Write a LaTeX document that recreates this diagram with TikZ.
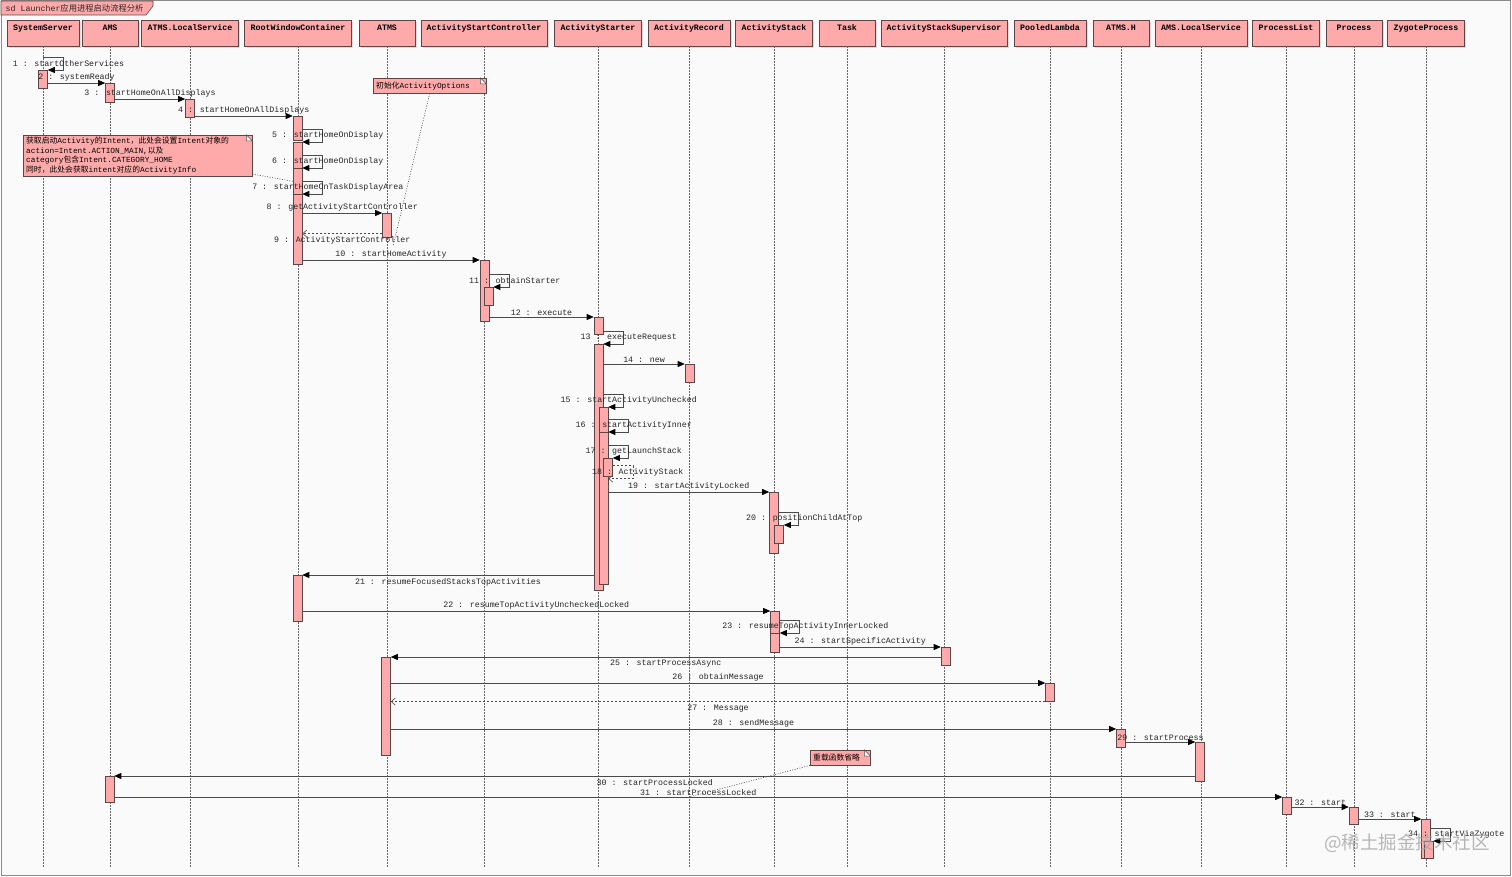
\documentclass[tikz,border=0pt]{standalone}
\usepackage{fontspec}
\usetikzlibrary{arrows.meta,shadows}
\newfontfamily\seqfont{Liberation Mono}
\newfontfamily\cjk{Noto Sans CJK SC}
\newcommand\zh[1]{{\cjk #1}}
\definecolor{pinkfill}{HTML}{FFAAAA}
\definecolor{edge}{HTML}{5A4646}
\definecolor{wire}{HTML}{4A4A4A}
\definecolor{paper}{HTML}{FAFAFA}
\definecolor{framegray}{HTML}{8A8A8A}
\tikzset{
  hdr/.style={draw=edge, fill=pinkfill, anchor=north, minimum width=56pt, inner xsep=6pt, inner ysep=3pt,
    text height=7.5pt, text depth=12.5pt, font=\seqfont\bfseries\fontsize{8.3}{9.5}\selectfont,
    drop shadow={shadow xshift=2pt, shadow yshift=-2pt, opacity=.25}},
  lifeline/.style={draw=black!60, line width=0.6pt, dash pattern=on 1.5pt off 1.5pt},
  actbar/.style={draw=edge, fill=pinkfill, anchor=north, minimum width=9pt, inner sep=0pt, line width=0.6pt},
  msg/.style={font=\seqfont\fontsize{8.3}{9.5}\selectfont, inner sep=1.5pt, text=black!85},
  call/.style={draw=wire, line width=0.7pt, -{Triangle[length=7pt,width=6pt,color=black]}},
  reply/.style={draw=wire, line width=0.6pt, dash pattern=on 2pt off 2pt, -{Straight Barb[length=4pt,width=7pt]}},
  note/.style={draw=edge, fill=pinkfill, anchor=north west, inner xsep=3pt, inner ysep=2pt, align=left,
    font=\seqfont\fontsize{7.8}{9.5}\selectfont},
  earfold/.style={draw=edge, fill=paper, line width=0.5pt},
  notelink/.style={draw=black!70, line width=0.6pt, dash pattern=on 1pt off 1.5pt}
}
\begin{document}
\begin{tikzpicture}[x=1pt, y=-1pt]
  \useasboundingbox (0,0) rectangle (1512,877);
  % Frame
  \filldraw[fill=paper, draw=framegray, line width=1pt] (1,1) rectangle (1510,875);
  \filldraw[fill=pinkfill, draw=edge, line width=0.6pt] (1,1) -- (153,1) -- (153,6) -- (146,15) -- (1,15) -- cycle;
  \node[msg, anchor=west] at (4,8) (title) {sd Launcher\zh{应用进程启动流程分析}};

  % Lifeline heads
  \node[hdr] at (43,20) (ss) {SystemServer};
  \node[hdr] at (110,20) (ams) {AMS};
  \node[hdr] at (190,20) (atmsls) {ATMS.LocalService};
  \node[hdr] at (298,20) (rwc) {RootWindowContainer};
  \node[hdr] at (387,20) (atms) {ATMS};
  \node[hdr] at (484,20) (asc) {ActivityStartController};
  \node[hdr] at (598,20) (ast) {ActivityStarter};
  \node[hdr] at (689,20) (ar) {ActivityRecord};
  \node[hdr] at (774,20) (astk) {ActivityStack};
  \node[hdr] at (847,20) (task) {Task};
  \node[hdr] at (944,20) (ass) {ActivityStackSupervisor};
  \node[hdr] at (1050,20) (pl) {PooledLambda};
  \node[hdr] at (1121,20) (atmsh) {ATMS.H};
  \node[hdr] at (1201,20) (amsls) {AMS.LocalService};
  \node[hdr] at (1286,20) (pls) {ProcessList};
  \node[hdr] at (1354,20) (proc) {Process};
  \node[hdr] at (1426,20) (zyg) {ZygoteProcess};

  % Lifelines
  \draw[lifeline] (ss.south) -- ++(0,822);
  \draw[lifeline] (ams.south) -- ++(0,822);
  \draw[lifeline] (atmsls.south) -- ++(0,822);
  \draw[lifeline] (rwc.south) -- ++(0,822);
  \draw[lifeline] (atms.south) -- ++(0,822);
  \draw[lifeline] (asc.south) -- ++(0,822);
  \draw[lifeline] (ast.south) -- ++(0,822);
  \draw[lifeline] (ar.south) -- ++(0,822);
  \draw[lifeline] (astk.south) -- ++(0,822);
  \draw[lifeline] (task.south) -- ++(0,822);
  \draw[lifeline] (ass.south) -- ++(0,822);
  \draw[lifeline] (pl.south) -- ++(0,822);
  \draw[lifeline] (atmsh.south) -- ++(0,822);
  \draw[lifeline] (amsls.south) -- ++(0,822);
  \draw[lifeline] (pls.south) -- ++(0,822);
  \draw[lifeline] (proc.south) -- ++(0,822);
  \draw[lifeline] (zyg.south) -- ++(0,822);

  % Notes
  \node[note, text width=107pt, minimum height=15pt] at (373,78) (n1) {\zh{初始化}ActivityOptions};
  \filldraw[earfold] ([xshift=-6pt]n1.north east) -- ([xshift=-6pt,yshift=-6pt]n1.north east) -- ([yshift=-6pt]n1.north east) -- cycle;
  \node[note, text width=223pt] at (23,135) (n2) {\zh{获取启动}Activity\zh{的}Intent\zh{，此处会设置}Intent\zh{对象的}\\
    action=Intent.ACTION\_MAIN,\zh{以及}\\
    category\zh{包含}Intent.CATEGORY\_HOME\\
    \zh{同时，此处会获取}intent\zh{对应的}ActivityInfo};
  \filldraw[earfold] ([xshift=-6pt]n2.north east) -- ([xshift=-6pt,yshift=-6pt]n2.north east) -- ([yshift=-6pt]n2.north east) -- cycle;
  \node[note, text width=54pt, minimum height=15pt] at (810,750) (n3) {\zh{重载函数省略}};
  \filldraw[earfold] ([xshift=-6pt]n3.north east) -- ([xshift=-6pt,yshift=-6pt]n3.north east) -- ([yshift=-6pt]n3.north east) -- cycle;

  % Activation bars
  \node[actbar, minimum height=18pt] at (43,70) (ss1) {};
  \node[actbar, minimum height=19pt] at (110,83) (ams1) {};
  \node[actbar, minimum height=18pt] at (190,99) (atmsls1) {};
  \node[actbar, minimum height=24pt] at (297.5,116) (rwc1) {};
  \node[actbar, minimum height=26pt] at (297.5,142) (rwc2) {};
  \node[actbar, minimum height=26pt] at (297.5,168) (rwc3) {};
  \node[actbar, minimum height=70pt] at (297.5,194) (rwc4) {};
  \node[actbar, minimum height=24pt] at (387,213) (atms1) {};
  \node[actbar, minimum height=61pt] at (484.5,260) (asc1) {};
  \node[actbar, minimum height=18pt] at (488.5,287) (asc2) {};
  \node[actbar, minimum height=17pt] at (598.5,317) (ast1) {};
  \node[actbar, minimum height=246pt] at (598.5,344) (ast2) {};
  \node[actbar, minimum height=18pt] at (689.5,364) (ar1) {};
  \node[actbar, minimum height=177pt] at (603.5,407) (ast3) {};
  \node[actbar, minimum height=152pt] at (603.5,432) (ast4) {};
  \node[actbar, minimum height=18pt] at (608,458) (ast5) {};
  \node[actbar, minimum height=61pt] at (774,492) (astk1) {};
  \node[actbar, minimum height=18pt] at (779,525) (astk2) {};
  \node[actbar, minimum height=46pt] at (297.5,575) (rwc5) {};
  \node[actbar, minimum height=41pt] at (775,611) (astk3) {};
  \node[actbar, minimum height=19pt] at (775,633) (astk4) {};
  \node[actbar, minimum height=18pt] at (945.5,647) (ass1) {};
  \node[actbar, minimum height=98pt] at (386,657) (atms2) {};
  \node[actbar, minimum height=18pt] at (1050,683) (pl1) {};
  \node[actbar, minimum height=18pt] at (1121,729) (atmsh1) {};
  \node[actbar, minimum height=39pt] at (1200,742) (amsls1) {};
  \node[actbar, minimum height=26pt] at (109.5,776) (ams2) {};
  \node[actbar, minimum height=17pt] at (1287,797) (pls1) {};
  \node[actbar, minimum height=17pt] at (1353.5,807) (proc1) {};
  \node[actbar, minimum height=39pt] at (1426,819) (zyg1) {};
  \node[actbar, minimum height=17pt] at (1428.5,841) (zyg2) {};

  % Messages
  \draw[call] ([yshift=13pt]ss1.north -| ss.south) -- ++(20,0) -- node[msg, xshift=5.5pt] {1 : startOtherServices} ++(0,13) -- (ss1.north east);
  \draw[call] (ss1.east |- ams1.north) -- node[msg, above] {2 : systemReady} (ams1.north west);
  \draw[call] (ams1.east |- atmsls1.north) -- node[msg, above] {3 : startHomeOnAllDisplays} (atmsls1.north west);
  \draw[call] (atmsls1.east |- rwc1.north) -- node[msg, above] {4 : startHomeOnAllDisplays} (rwc1.north west);
  \draw[call] ([yshift=13pt]rwc2.north -| rwc1.east) -- ++(20,0) -- node[msg, xshift=5.5pt] {5 : startHomeOnDisplay} ++(0,13) -- (rwc2.north east);
  \draw[call] ([yshift=13pt]rwc3.north -| rwc2.east) -- ++(20,0) -- node[msg, xshift=5.5pt] {6 : startHomeOnDisplay} ++(0,13) -- (rwc3.north east);
  \draw[call] ([yshift=13pt]rwc4.north -| rwc3.east) -- ++(20,0) -- node[msg, xshift=5.5pt] {7 : startHomeOnTaskDisplayArea} ++(0,13) -- (rwc4.north east);
  \draw[call] (rwc4.east |- atms1.north) -- node[msg, above] {8 : getActivityStartController} (atms1.north west);
  \draw[reply] ([yshift=4pt]atms1.south west) -- node[msg, below=1.5pt] {9 : ActivityStartController} ([yshift=4pt]atms1.south -| rwc4.east);
  \draw[call] (rwc4.east |- asc1.north) -- node[msg, above] {10 : startHomeActivity} (asc1.north west);
  \draw[call] ([yshift=13pt]asc2.north -| asc1.east) -- ++(20,0) -- node[msg, xshift=5.5pt] {11 : obtainStarter} ++(0,13) -- (asc2.north east);
  \draw[call] (asc1.east |- ast1.north) -- node[msg, above] {12 : execute} (ast1.north west);
  \draw[call] ([yshift=13pt]ast2.north -| ast1.east) -- ++(20,0) -- node[msg, xshift=5.5pt] {13 : executeRequest} ++(0,13) -- (ast2.north east);
  \draw[call] (ast2.east |- ar1.north) -- node[msg, above] {14 : new} (ar1.north west);
  \draw[call] ([yshift=13pt]ast3.north -| ast2.east) -- ++(20,0) -- node[msg, xshift=5.5pt] {15 : startActivityUnchecked} ++(0,13) -- (ast3.north east);
  \draw[call] ([yshift=13pt]ast4.north -| ast3.east) -- ++(20,0) -- node[msg, xshift=5.5pt] {16 : startActivityInner} ++(0,13) -- (ast4.north east);
  \draw[call] ([yshift=13pt]ast5.north -| ast4.east) -- ++(20,0) -- node[msg, xshift=5.5pt] {17 : getLaunchStack} ++(0,13) -- (ast5.north east);
  \draw[reply] ([yshift=11pt]ast5.south east) -- ++(20,0) -- node[msg, xshift=5pt] {18 : ActivityStack} ++(0,13) -- ([yshift=-2pt]ast5.south -| ast4.east);
  \draw[call] (ast4.east |- astk1.north) -- node[msg, above] {19 : startActivityLocked} (astk1.north west);
  \draw[call] ([yshift=13pt]astk2.north -| astk1.east) -- ++(20,0) -- node[msg, xshift=5.5pt] {20 : positionChildAtTop} ++(0,13) -- (astk2.north east);
  \draw[call] (ast2.west |- rwc5.north) -- node[msg, below=1.5pt] {21 : resumeFocusedStacksTopActivities} (rwc5.north east);
  \draw[call] (rwc5.east |- astk3.north) -- node[msg, above] {22 : resumeTopActivityUncheckedLocked} (astk3.north west);
  \draw[call] ([yshift=13pt]astk4.north -| astk3.east) -- ++(20,0) -- node[msg, xshift=5.5pt] {23 : resumeTopActivityInnerLocked} ++(0,13) -- (astk4.north east);
  \draw[call] (astk4.east |- ass1.north) -- node[msg, above] {24 : startSpecificActivity} (ass1.north west);
  \draw[call] (ass1.west |- atms2.north) -- node[msg, below=1.5pt] {25 : startProcessAsync} (atms2.north east);
  \draw[call] (atms2.east |- pl1.north) -- node[msg, above] {26 : obtainMessage} (pl1.north west);
  \draw[reply] (pl1.south west) -- node[msg, below=1.5pt] {27 : Message} (pl1.south -| atms2.east);
  \draw[call] (atms2.east |- atmsh1.north) -- node[msg, above] {28 : sendMessage} (atmsh1.north west);
  \draw[call] (atmsh1.east |- amsls1.north) -- node[msg, above] {29 : startProcess} (amsls1.north west);
  \draw[call] (amsls1.west |- ams2.north) -- node[msg, below=1.5pt] {30 : startProcessLocked} (ams2.north east);
  \draw[call] (ams2.east |- pls1.north) -- node[msg, above] {31 : startProcessLocked} (pls1.north west);
  \draw[call] (pls1.east |- proc1.north) -- node[msg, above] {32 : start} (proc1.north west);
  \draw[call] (proc1.east |- zyg1.north) -- node[msg, above] {33 : start} (zyg1.north west);
  \draw[call] ([yshift=13pt]zyg2.north -| zyg1.east) -- ++(20,0) -- node[msg, xshift=5.5pt] {34 : startViaZygote} ++(0,13) -- (zyg2.north east);

  % Note links
  \coordinate (n1tip) at (393,246);
  \coordinate (n3tip) at (689,797);
  \draw[notelink] (n1.south) -- (n1tip);
  \draw[notelink] ([yshift=2pt]n2.south east) -- (rwc3.west);
  \draw[notelink] (n3.south west) -- (n3tip);

  % Watermark
  \node[font=\cjk\fontsize{18.5}{20}\selectfont, text=black!35, opacity=.8] at (1407,843) (wm) {@稀土掘金技术社区};
\end{tikzpicture}
\end{document}
